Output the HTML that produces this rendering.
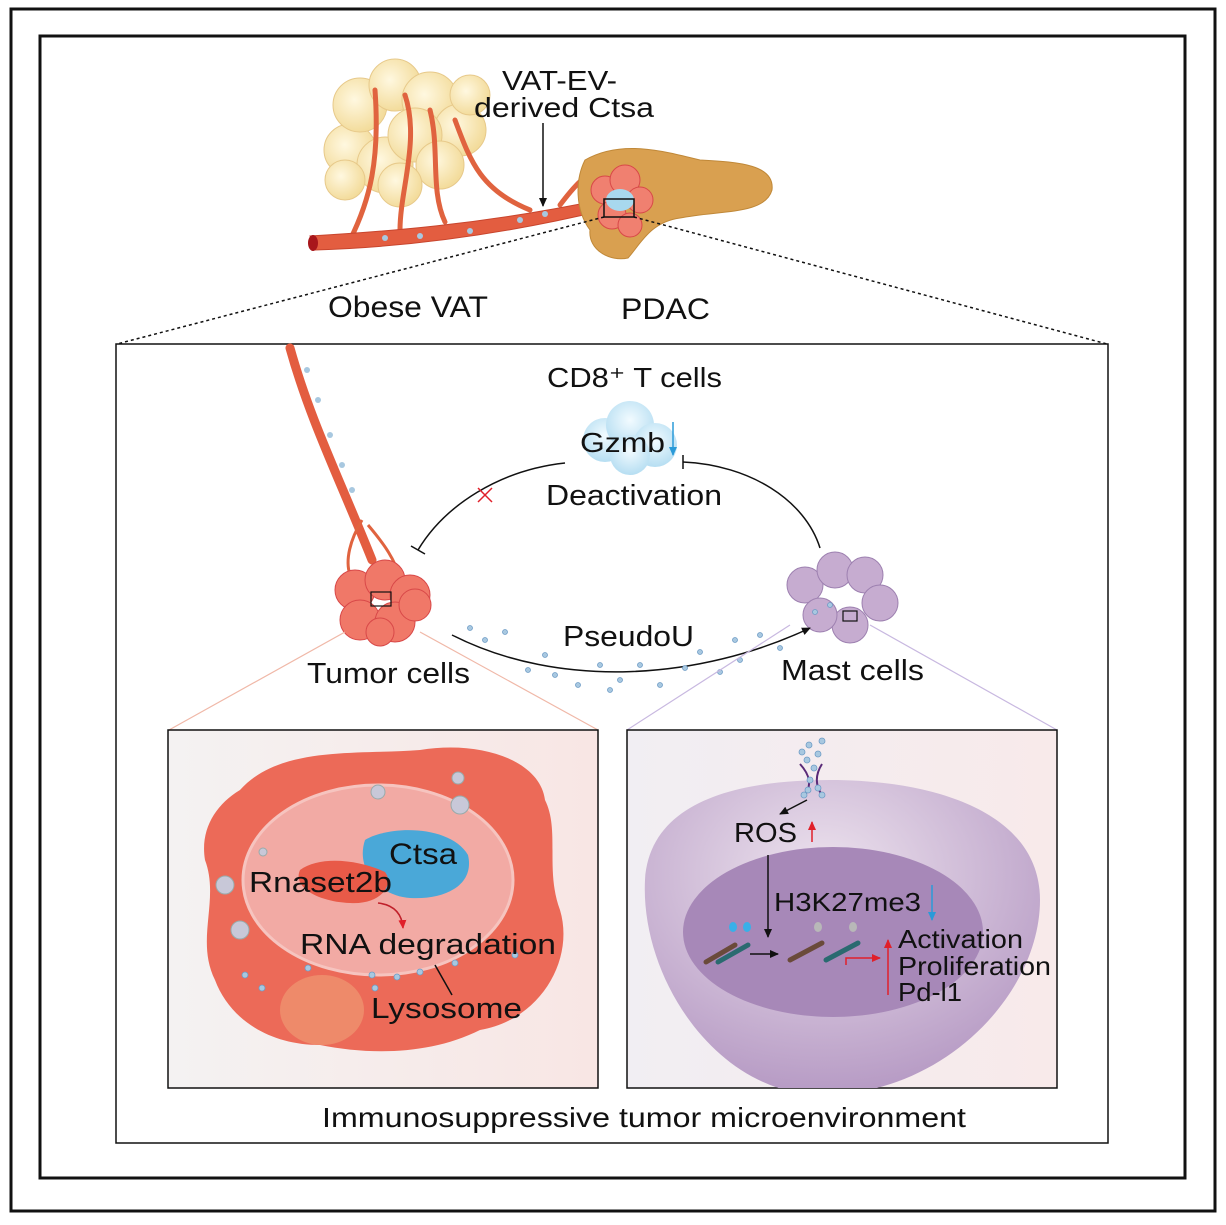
<!DOCTYPE html>
<html><head><meta charset="utf-8"><style>
html,body{margin:0;padding:0;background:#fff}
svg{display:block}
text{font-family:"Liberation Sans",Arial,sans-serif;fill:#111}
</style></head><body>
<svg width="1226" height="1225" viewBox="0 0 1226 1225" xmlns="http://www.w3.org/2000/svg">
<defs>
<linearGradient id="lp" x1="0" y1="0" x2="1" y2="0"><stop offset="0" stop-color="#f4f2f2"/><stop offset="1" stop-color="#f8e6e4"/></linearGradient>
<linearGradient id="rp" x1="0" y1="0" x2="1" y2="0"><stop offset="0" stop-color="#f1eef3"/><stop offset="1" stop-color="#f8eaea"/></linearGradient>
<radialGradient id="cell" cx="0.45" cy="0.3" r="0.7"><stop offset="0" stop-color="#ede3ee"/><stop offset="1" stop-color="#b69ac4"/></radialGradient>
<radialGradient id="fat" cx="0.4" cy="0.4" r="0.6"><stop offset="0" stop-color="#fff8e0"/><stop offset="1" stop-color="#f3dc9c"/></radialGradient>
<radialGradient id="cloud" cx="0.5" cy="0.4" r="0.6"><stop offset="0" stop-color="#f2fbff"/><stop offset="1" stop-color="#b6def2"/></radialGradient>
<clipPath id="rpc"><rect x="627" y="730" width="430" height="358"/></clipPath>
<marker id="ah" markerWidth="10" markerHeight="10" refX="8" refY="5" orient="auto" markerUnits="userSpaceOnUse"><path d="M0,1 L9,5 L0,9 Z" fill="#111"/></marker>
<marker id="ahr" markerWidth="10" markerHeight="10" refX="8" refY="5" orient="auto" markerUnits="userSpaceOnUse"><path d="M0,1 L9,5 L0,9 Z" fill="#e0202a"/></marker>
<marker id="ahb" markerWidth="10" markerHeight="10" refX="8" refY="5" orient="auto" markerUnits="userSpaceOnUse"><path d="M0,1 L9,5 L0,9 Z" fill="#2a9ad8"/></marker>
</defs>
<rect x="11" y="9" width="1204" height="1202" fill="none" stroke="#111" stroke-width="3"/>
<rect x="40" y="36" width="1145" height="1142" fill="none" stroke="#111" stroke-width="3"/>

<g fill="url(#fat)" stroke="#e7c98a" stroke-width="1">
<circle cx="350" cy="150" r="26"/><circle cx="385" cy="165" r="28"/><circle cx="360" cy="105" r="27"/><circle cx="395" cy="85" r="26"/><circle cx="430" cy="100" r="28"/><circle cx="460" cy="130" r="26"/><circle cx="415" cy="135" r="27"/><circle cx="440" cy="165" r="24"/><circle cx="400" cy="185" r="22"/><circle cx="345" cy="180" r="20"/><circle cx="470" cy="95" r="20"/>
</g>
<g fill="none" stroke="#e0633f" stroke-width="5" stroke-linecap="round">
<path d="M350 240 C370 200 380 160 375 90"/><path d="M400 230 C400 190 420 140 405 95"/><path d="M445 222 C430 190 440 150 430 110"/><path d="M530 210 C480 190 470 160 455 120"/><path d="M560 205 C575 185 585 175 600 168"/>
</g>
<path d="M310 236 C380 232 480 225 600 200 L605 210 C480 240 380 248 315 250 Z" fill="#e35d40" stroke="#c8452d"/>
<ellipse cx="313" cy="243" rx="5" ry="8" fill="#a8161b"/>
<g fill="#a8c8e0"><circle cx="385" cy="238" r="3"/><circle cx="420" cy="236" r="3"/><circle cx="470" cy="231" r="3"/><circle cx="520" cy="220" r="3"/><circle cx="545" cy="214" r="3"/></g>
<path d="M585 160 C620 140 660 150 700 160 C740 162 775 165 772 190 C765 215 720 210 680 218 C650 222 640 245 628 258 C610 262 588 250 590 230 C575 210 575 180 585 160 Z" fill="#d9a050" stroke="#c08838"/>
<g fill="#f08070" stroke="#d84848"><circle cx="605" cy="190" r="14"/><circle cx="625" cy="180" r="15"/><circle cx="640" cy="200" r="13"/><circle cx="612" cy="215" r="14"/><circle cx="630" cy="225" r="12"/></g>
<ellipse cx="620" cy="200" rx="14" ry="11" fill="#a8d8ee"/>
<rect x="604" y="199" width="30" height="18" fill="none" stroke="#111" stroke-width="1.5"/>
<text x="502" y="90" font-size="28" textLength="115" lengthAdjust="spacingAndGlyphs">VAT-EV-</text>
<text x="474" y="117" font-size="28" textLength="180" lengthAdjust="spacingAndGlyphs">derived Ctsa</text>
<line x1="543" y1="123" x2="543" y2="206" stroke="#111" stroke-width="1.5" marker-end="url(#ah)"/>
<text x="328" y="317" font-size="30" textLength="160" lengthAdjust="spacingAndGlyphs">Obese VAT</text>
<text x="621" y="319" font-size="30" textLength="89" lengthAdjust="spacingAndGlyphs">PDAC</text>
<line x1="604" y1="217" x2="117" y2="344" stroke="#111" stroke-width="1.5" stroke-dasharray="3,3"/>
<line x1="634" y1="217" x2="1107" y2="344" stroke="#111" stroke-width="1.5" stroke-dasharray="3,3"/>

<rect x="116" y="344" width="992" height="799" fill="none" stroke="#111" stroke-width="1.5"/>

<path d="M290 348 C310 420 340 480 372 560" fill="none" stroke="#e35d40" stroke-width="9" stroke-linecap="round"/>
<g fill="#a8c8e0"><circle cx="307" cy="370" r="3"/><circle cx="318" cy="400" r="3"/><circle cx="330" cy="435" r="3"/><circle cx="342" cy="465" r="3"/><circle cx="352" cy="490" r="3"/></g>
<g fill="none" stroke="#e0633f" stroke-width="3"><path d="M362 520 C350 540 345 560 350 575"/><path d="M368 525 C385 545 395 560 400 578"/></g>
<g fill="#f07868" stroke="#d84848"><circle cx="355" cy="590" r="20"/><circle cx="385" cy="580" r="20"/><circle cx="410" cy="595" r="20"/><circle cx="360" cy="620" r="20"/><circle cx="395" cy="622" r="20"/><circle cx="415" cy="605" r="16"/><circle cx="380" cy="632" r="14"/></g>
<rect x="371" y="592" width="20" height="14" fill="none" stroke="#111" stroke-width="1.2"/>
<g fill="#c6acd0" stroke="#9d80b0"><circle cx="805" cy="585" r="18"/><circle cx="835" cy="570" r="18"/><circle cx="865" cy="575" r="18"/><circle cx="880" cy="603" r="18"/><circle cx="850" cy="625" r="18"/><circle cx="820" cy="615" r="17"/></g>
<rect x="843" y="611" width="14" height="10" fill="none" stroke="#111" stroke-width="1.2"/>
<text x="547" y="387" font-size="28" textLength="175" lengthAdjust="spacingAndGlyphs">CD8⁺ T cells</text>
<g fill="url(#cloud)"><circle cx="605" cy="440" r="22"/><circle cx="630" cy="425" r="24"/><circle cx="655" cy="445" r="22"/><circle cx="630" cy="455" r="20"/></g>
<text x="580" y="452" font-size="28" textLength="85" lengthAdjust="spacingAndGlyphs">Gzmb</text>
<line x1="673" y1="422" x2="673" y2="455" stroke="#2a9ad8" stroke-width="1.5" marker-end="url(#ahb)"/>
<text x="546" y="505" font-size="29" textLength="176" lengthAdjust="spacingAndGlyphs">Deactivation</text>
<path d="M565 463 C500 470 445 505 418 550" fill="none" stroke="#111" stroke-width="1.5"/>
<line x1="411" y1="546" x2="425" y2="554" stroke="#111" stroke-width="1.5"/>
<path d="M478 488 L492 502 M492 488 L478 502" stroke="#e0202a" stroke-width="1.5"/>
<path d="M683 462 C750 465 805 500 820 548" fill="none" stroke="#111" stroke-width="1.5"/>
<line x1="683" y1="455" x2="683" y2="469" stroke="#111" stroke-width="1.5"/>
<path d="M452 635 C560 690 700 680 810 628" fill="none" stroke="#111" stroke-width="1.5" marker-end="url(#ah)"/>
<g fill="#a8c8e0" stroke="#6e9cc6" stroke-width="0.8">
<circle cx="470" cy="628" r="2.5"/><circle cx="505" cy="632" r="2.5"/><circle cx="545" cy="655" r="2.5"/><circle cx="528" cy="670" r="2.5"/><circle cx="555" cy="675" r="2.5"/><circle cx="578" cy="685" r="2.5"/><circle cx="600" cy="665" r="2.5"/><circle cx="620" cy="680" r="2.5"/><circle cx="640" cy="665" r="2.5"/><circle cx="660" cy="685" r="2.5"/><circle cx="685" cy="668" r="2.5"/><circle cx="700" cy="652" r="2.5"/><circle cx="720" cy="672" r="2.5"/><circle cx="740" cy="660" r="2.5"/><circle cx="735" cy="640" r="2.5"/><circle cx="760" cy="635" r="2.5"/><circle cx="780" cy="648" r="2.5"/><circle cx="815" cy="612" r="2.5"/><circle cx="830" cy="605" r="2.5"/><circle cx="485" cy="640" r="2.5"/><circle cx="610" cy="690" r="2.5"/>
</g>
<text x="563" y="646" font-size="29" textLength="131" lengthAdjust="spacingAndGlyphs">PseudoU</text>
<text x="307" y="683" font-size="29" textLength="163" lengthAdjust="spacingAndGlyphs">Tumor cells</text>
<text x="781" y="680" font-size="29" textLength="143" lengthAdjust="spacingAndGlyphs">Mast cells</text>
<line x1="345" y1="632" x2="169" y2="730" stroke="#f0b8a8" stroke-width="1.2"/>
<line x1="420" y1="632" x2="598" y2="730" stroke="#f0b8a8" stroke-width="1.2"/>
<line x1="790" y1="625" x2="627" y2="730" stroke="#c8b8e0" stroke-width="1.2"/>
<line x1="870" y1="625" x2="1057" y2="730" stroke="#c8b8e0" stroke-width="1.2"/>

<rect x="168" y="730" width="430" height="358" fill="url(#lp)" stroke="#111" stroke-width="1.5"/>
<path d="M240 790 C280 745 360 755 420 750 C480 740 540 760 545 800 C560 830 545 870 560 910 C575 960 540 1020 480 1030 C430 1055 370 1055 320 1045 C270 1045 230 1020 215 980 C195 940 220 900 205 860 C200 830 215 805 240 790 Z" fill="#ec6a58"/>
<ellipse cx="378" cy="880" rx="135" ry="95" fill="#f2aaa4" stroke="#f6c4bf" stroke-width="3"/>
<path d="M365 840 C390 825 450 825 468 855 C475 885 445 900 410 898 C380 896 355 870 365 840 Z" fill="#4aa8d8"/>
<path d="M300 870 C320 855 360 860 385 872 C395 885 380 905 350 903 C320 902 292 888 300 870 Z" fill="#e85a48"/>
<ellipse cx="322" cy="1010" rx="42" ry="35" fill="#ee8a6a"/>
<g fill="#c8c8d8" stroke="#9aa" stroke-width="1"><circle cx="378" cy="792" r="7"/><circle cx="460" cy="805" r="9"/><circle cx="458" cy="778" r="6"/><circle cx="225" cy="885" r="9"/><circle cx="240" cy="930" r="9"/><circle cx="263" cy="852" r="4"/></g>
<g fill="#a8c8e0" stroke="#6e9cc6" stroke-width="0.8"><circle cx="245" cy="975" r="3"/><circle cx="262" cy="988" r="3"/><circle cx="308" cy="968" r="3"/><circle cx="372" cy="975" r="3"/><circle cx="397" cy="977" r="3"/><circle cx="420" cy="972" r="3"/><circle cx="455" cy="963" r="3"/><circle cx="515" cy="955" r="3"/><circle cx="375" cy="988" r="3"/></g>
<text x="389" y="864" font-size="30" textLength="68" lengthAdjust="spacingAndGlyphs">Ctsa</text>
<text x="249" y="892" font-size="29" textLength="143" lengthAdjust="spacingAndGlyphs">Rnaset2b</text>
<path d="M378 903 C395 905 402 915 403 928" fill="none" stroke="#c0202a" stroke-width="1.5" marker-end="url(#ahr)"/>
<text x="300" y="954" font-size="29" textLength="256" lengthAdjust="spacingAndGlyphs">RNA degradation</text>
<line x1="435" y1="965" x2="452" y2="995" stroke="#111" stroke-width="1.5"/>
<text x="371" y="1018" font-size="29" textLength="151" lengthAdjust="spacingAndGlyphs">Lysosome</text>

<rect x="627" y="730" width="430" height="358" fill="url(#rp)" stroke="#111" stroke-width="1.5"/>
<g clip-path="url(#rpc)">
<path d="M645 880 C650 800 740 780 830 780 C930 780 1040 810 1040 900 C1040 990 950 1090 830 1095 C720 1100 640 980 645 880 Z" fill="url(#cell)"/>
</g>
<ellipse cx="833" cy="932" rx="150" ry="85" fill="#a788b8"/>
<g stroke="#5a2a78" stroke-width="2" fill="none"><path d="M800 764 C810 775 812 785 805 795"/><path d="M822 764 C815 775 815 785 822 795"/></g>
<g fill="#a8c8e0" stroke="#6e9cc6" stroke-width="0.8"><circle cx="809" cy="745" r="3"/><circle cx="822" cy="741" r="3"/><circle cx="802" cy="752" r="3"/><circle cx="818" cy="754" r="3"/><circle cx="807" cy="760" r="3"/><circle cx="814" cy="768" r="3"/><circle cx="810" cy="780" r="3"/><circle cx="808" cy="790" r="3"/><circle cx="818" cy="788" r="3"/><circle cx="822" cy="795" r="3"/><circle cx="804" cy="795" r="3"/></g>
<line x1="807" y1="800" x2="780" y2="814" stroke="#111" stroke-width="1.5" marker-end="url(#ah)"/>
<text x="734" y="842" font-size="28" textLength="63" lengthAdjust="spacingAndGlyphs">ROS</text>
<line x1="812" y1="842" x2="812" y2="822" stroke="#e0202a" stroke-width="1.5" marker-end="url(#ahr)"/>
<line x1="768" y1="855" x2="768" y2="937" stroke="#111" stroke-width="1.5" marker-end="url(#ah)"/>
<text x="774" y="911" font-size="26" textLength="147" lengthAdjust="spacingAndGlyphs">H3K27me3</text>
<line x1="932" y1="885" x2="932" y2="920" stroke="#2a9ad8" stroke-width="1.5" marker-end="url(#ahb)"/>
<g stroke-width="5" stroke-linecap="round">
<line x1="706" y1="962" x2="735" y2="945" stroke="#6a4a3a"/><line x1="718" y1="962" x2="748" y2="945" stroke="#2a6a70"/>
<line x1="790" y1="960" x2="822" y2="943" stroke="#6a4a3a"/><line x1="826" y1="960" x2="858" y2="943" stroke="#2a6a70"/>
</g>
<g fill="#38b0e8"><ellipse cx="733" cy="927" rx="4" ry="5"/><ellipse cx="747" cy="927" rx="4" ry="5"/></g>
<g fill="#b8b8b8"><ellipse cx="818" cy="927" rx="4" ry="5"/><ellipse cx="853" cy="927" rx="4" ry="5"/></g>
<line x1="750" y1="954" x2="778" y2="954" stroke="#111" stroke-width="1.5" marker-end="url(#ah)"/>
<path d="M846 965 L846 958 L880 958" fill="none" stroke="#e0202a" stroke-width="1.5" marker-end="url(#ahr)"/>
<line x1="888" y1="995" x2="888" y2="940" stroke="#e0202a" stroke-width="1.5" marker-end="url(#ahr)"/>
<text x="898" y="948" font-size="26" textLength="125" lengthAdjust="spacingAndGlyphs">Activation</text>
<text x="898" y="975" font-size="26" textLength="153" lengthAdjust="spacingAndGlyphs">Proliferation</text>
<text x="898" y="1001" font-size="26" textLength="64" lengthAdjust="spacingAndGlyphs">Pd-l1</text>

<text x="322" y="1127" font-size="28" textLength="644" lengthAdjust="spacingAndGlyphs">Immunosuppressive tumor microenvironment</text>
</svg>
</body></html>
